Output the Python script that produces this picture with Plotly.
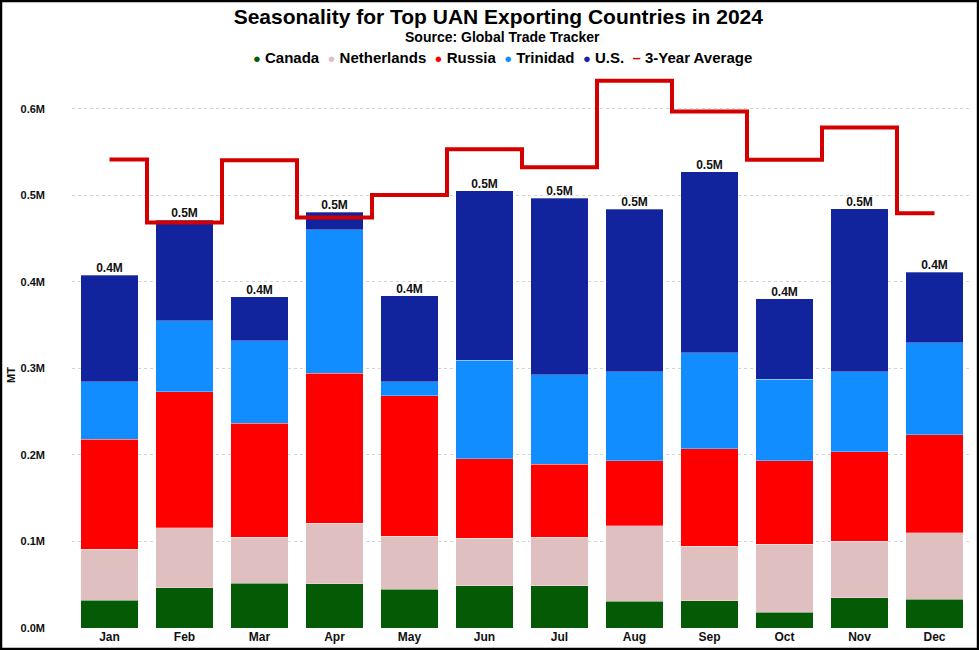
import plotly.graph_objects as go

# monthly UAN exports 2024, metric tonnes
months = ["Jan", "Feb", "Mar", "Apr", "May", "Jun", "Jul", "Aug", "Sep", "Oct", "Nov", "Dec"]
canada = [32000, 46600, 52000, 51300, 44800, 49000, 49000, 30900, 31600, 18500, 35000, 33500]
netherlands = [59000, 69400, 53000, 69700, 61200, 54700, 56000, 87100, 62900, 78100, 65000, 76500]
russia = [127400, 157000, 131600, 173200, 162600, 92000, 84000, 75400, 112900, 96800, 104000, 113400]
trinidad = [66300, 82000, 95400, 166200, 16100, 113800, 103700, 102600, 110600, 94100, 92000, 106600]
us = [123300, 116600, 51000, 20300, 99500, 196100, 204300, 188000, 209500, 93200, 188400, 81200]
avg_3yr = [541600, 468700, 540800, 474500, 500600, 553400, 532600, 632700, 596900, 541400, 578400, 479400]

y_ticks = [0, 100000, 200000, 300000, 400000, 500000, 600000]
y_tick_labels = ["0.0M", "0.1M", "0.2M", "0.3M", "0.4M", "0.5M", "0.6M"]

series = [
    ("Canada", canada, "#055a05"),
    ("Netherlands", netherlands, "#dfbfbf"),
    ("Russia", russia, "#ff0000"),
    ("Trinidad", trinidad, "#118dff"),
    ("U.S.", us, "#12239e"),
]
AVG_COLOR = "#d40000"

totals = [sum(v) for v in zip(canada, netherlands, russia, trinidad, us)]
total_labels = [f"{t / 1e6:.1f}M" for t in totals]

FONT = "Liberation Sans, Arial, sans-serif"

fig = go.Figure()

for name, vals, col in series:
    fig.add_trace(go.Bar(x=months, y=vals, name=name, marker_color=col,
                         marker_line=dict(color="rgba(255,255,255,0.5)", width=0.6)))

fig.add_trace(go.Scatter(x=months, y=avg_3yr, mode="lines", name="3-Year Average",
                         line=dict(color=AVG_COLOR, width=4, shape="hvh")))

# total labels above the stacks
fig.add_trace(go.Scatter(x=months, y=totals, mode="text", text=total_labels,
                         textposition="top center", name="Total",
                         textfont=dict(family=FONT, size=12, color="#111", weight="bold")))

fig.update_layout(
    width=979, height=650,
    barmode="stack", bargap=0.23,
    margin=dict(l=72, r=7, t=70, b=22),
    paper_bgcolor="white", plot_bgcolor="white",
    font=dict(family=FONT, color="#111"),
    title=dict(text="Seasonality for Top UAN Exporting Countries in 2024",
               x=0.509, xref="container", xanchor="center",
               y=0.975, yanchor="middle",
               font=dict(family=FONT, size=21, color="black", weight="bold")),
    showlegend=False,
)

fig.update_xaxes(range=[-0.5, 11.5], showgrid=False, showline=False, ticks="",
                 automargin=False,
                 tickfont=dict(family=FONT, size=12, color="#111", weight="bold"))
fig.update_yaxes(range=[0, 645000], tickvals=y_ticks, ticktext=y_tick_labels,
                 showgrid=True, gridcolor="#d4d4d4", griddash="dot", gridwidth=1,
                 zeroline=False, showline=False, ticks="", ticklabelstandoff=26,
                 automargin=False,
                 tickfont=dict(family=FONT, size=11, color="#111", weight="bold"))

# compact legend line, built from the series names and colours
parts = [f"<span style='color:{c};font-size:13px'>●</span>&nbsp;{n}" for n, _, c in series]
parts.append(f"<span style='color:{AVG_COLOR}'>–</span>&nbsp;3-Year Average")
fig.add_annotation(text="&nbsp;&nbsp;".join(parts), xref="paper", yref="paper",
                   x=0.478, y=1.023, showarrow=False, xanchor="center", yanchor="middle",
                   font=dict(family=FONT, size=15, color="black", weight="bold"))

fig.add_annotation(text="Source: Global Trade Tracker", xref="paper", yref="paper",
                   x=0.478, y=1.059, showarrow=False, xanchor="center", yanchor="middle",
                   font=dict(family=FONT, size=14, color="black", weight="bold"))
fig.add_annotation(text="MT", xref="paper", yref="paper", x=-0.068, y=0.453,
                   xanchor="center", yanchor="middle",
                   textangle=-90, showarrow=False,
                   font=dict(family=FONT, size=11, color="#111", weight="bold"))

# frame around the whole picture
fig.add_shape(type="rect", xref="paper", yref="paper",
              x0=-0.0789, x1=1.0067, y0=-0.0376, y1=1.1237,
              line=dict(color="black", width=2.5))

fig.write_html("out.html", config={"displayModeBar": False},
               post_script="document.body.style.margin='0';")
